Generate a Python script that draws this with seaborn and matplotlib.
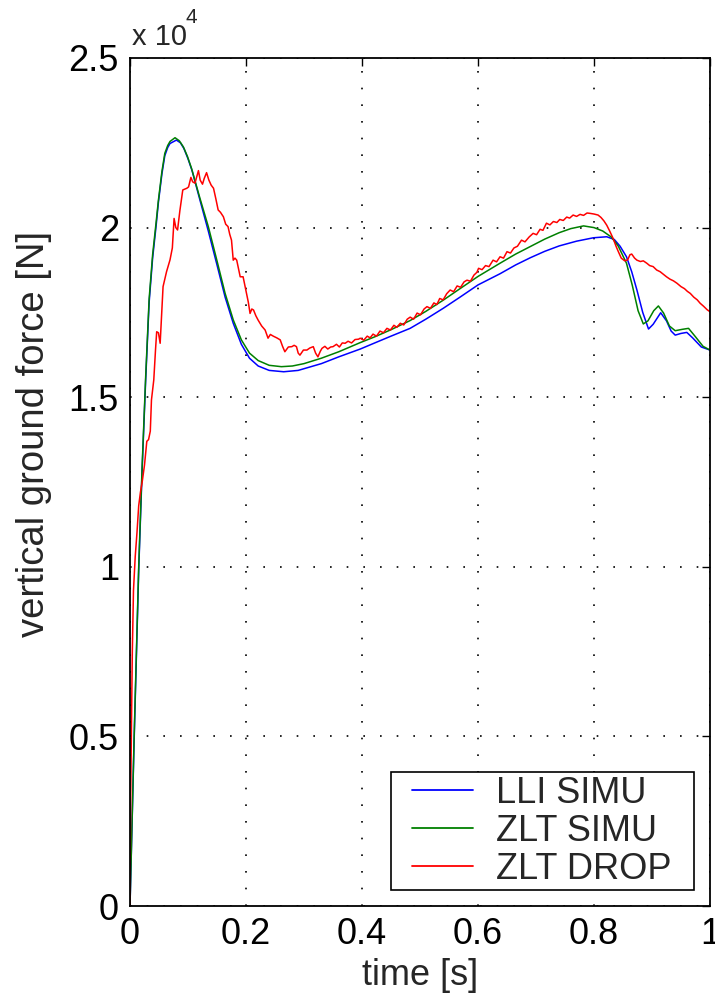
import numpy as np
import pandas as pd
import matplotlib
matplotlib.use("Agg")
import matplotlib.pyplot as plt
from matplotlib.ticker import FuncFormatter
from matplotlib.lines import Line2D
from matplotlib.legend_handler import HandlerLine2D
import seaborn as sns

# ---------------- data ----------------
lli_t = [0, 0.007, 0.015, 0.021, 0.027, 0.033, 0.039, 0.045, 0.049, 0.055, 0.060, 0.065,
         0.069, 0.080, 0.087, 0.093, 0.100, 0.107, 0.120, 0.135, 0.150, 0.164, 0.178,
         0.192, 0.206, 0.221, 0.240, 0.265, 0.290, 0.330, 0.360, 0.397, 0.422, 0.450,
         0.483, 0.510, 0.540, 0.569, 0.600, 0.638, 0.665, 0.690, 0.715, 0.740, 0.770,
         0.799, 0.822, 0.835, 0.845, 0.856, 0.865, 0.874, 0.884, 0.894, 0.902, 0.915,
         0.925, 0.933, 0.940, 0.950, 0.960, 0.970, 0.985, 1.0]
lli_f = [0, 4800, 9900, 12900, 15500, 17800, 19100, 20050, 20750, 21580, 22120, 22360,
         22480, 22580, 22500, 22330, 22030, 21680, 20850, 19900, 18900, 17950, 17180,
         16560, 16150, 15920, 15790, 15750, 15790, 15990, 16190, 16420, 16600, 16800,
         17030, 17300, 17620, 17950, 18310, 18640, 18900, 19110, 19300, 19460, 19600,
         19700, 19730, 19650, 19450, 19140, 18700, 18160, 17500, 17010, 17150, 17490,
         17250, 16950, 16830, 16880, 16910, 16750, 16480, 16390]

zlt_t = [0, 0.007, 0.015, 0.021, 0.027, 0.033, 0.039, 0.045, 0.049, 0.055, 0.060, 0.065,
         0.069, 0.0776, 0.085, 0.092, 0.099, 0.106, 0.120, 0.135, 0.150, 0.164, 0.178,
         0.192, 0.206, 0.221, 0.240, 0.261, 0.280, 0.300, 0.330, 0.360, 0.397, 0.422,
         0.450, 0.483, 0.510, 0.540, 0.569, 0.600, 0.638, 0.665, 0.690, 0.715, 0.740,
         0.760, 0.782, 0.800, 0.815, 0.830, 0.842, 0.856, 0.866, 0.876, 0.885, 0.893,
         0.903, 0.911, 0.920, 0.930, 0.940, 0.952, 0.963, 0.975, 0.988, 1.0]
zlt_f = [0, 4900, 10000, 13000, 15600, 17900, 19200, 20150, 20810, 21650, 22190, 22420,
         22540, 22650, 22560, 22380, 22100, 21750, 20900, 20030, 19020, 18060, 17280,
         16690, 16300, 16080, 15940, 15900, 15920, 15990, 16150, 16340, 16610, 16780,
         16990, 17260, 17530, 17860, 18200, 18560, 18950, 19220, 19440, 19660, 19850,
         19970, 20050, 20000, 19900, 19720, 19450, 18950, 18300, 17550, 17160, 17250,
         17550, 17690, 17480, 17100, 16960, 17000, 17030, 16780, 16500, 16390]

drop_t = [0, 0.001, 0.002, 0.004, 0.006, 0.009, 0.012, 0.015, 0.018, 0.021, 0.025, 0.029,
          0.032, 0.035, 0.037, 0.041, 0.044, 0.046, 0.049, 0.052, 0.055, 0.057, 0.063,
          0.069, 0.073, 0.076, 0.079, 0.082, 0.086, 0.091, 0.098, 0.101, 0.105, 0.108,
          0.112, 0.115, 0.118, 0.121, 0.125, 0.128, 0.132, 0.136, 0.140, 0.144, 0.148,
          0.152, 0.156, 0.161, 0.165, 0.169, 0.172, 0.175, 0.178, 0.181, 0.184, 0.187,
          0.190, 0.195, 0.198, 0.201, 0.204, 0.207, 0.210, 0.213, 0.217, 0.221, 0.227,
          0.233, 0.238, 0.242, 0.247, 0.253, 0.259, 0.263, 0.267, 0.273, 0.279, 0.283,
          0.287, 0.290, 0.293, 0.299, 0.305, 0.310, 0.316, 0.320, 0.324, 0.328, 0.331,
          0.336, 0.341, 0.346, 0.350, 0.356, 0.361, 0.366, 0.371, 0.376, 0.382, 0.388,
          0.394, 0.397, 0.403, 0.409, 0.414, 0.419, 0.425, 0.431, 0.437, 0.443, 0.449,
          0.455, 0.460, 0.466, 0.472, 0.478, 0.483, 0.489, 0.495, 0.501, 0.507, 0.512,
          0.518, 0.524, 0.529, 0.534, 0.540, 0.546, 0.552, 0.558, 0.564, 0.570, 0.576,
          0.581, 0.587, 0.593, 0.598, 0.601, 0.607, 0.613, 0.619, 0.626, 0.632, 0.638,
          0.644, 0.650, 0.656, 0.662, 0.668, 0.675, 0.681, 0.688, 0.695, 0.701, 0.707,
          0.712, 0.718, 0.724, 0.730, 0.736, 0.741, 0.747, 0.753, 0.758, 0.764, 0.770,
          0.776, 0.782, 0.788, 0.793, 0.800, 0.807, 0.812, 0.817, 0.822, 0.827, 0.833,
          0.838, 0.842, 0.847, 0.853, 0.858, 0.862, 0.865, 0.870, 0.874, 0.880, 0.885,
          0.891, 0.896, 0.902, 0.908, 0.914, 0.920, 0.925, 0.931, 0.937, 0.943, 0.950,
          0.956, 0.961, 0.966, 0.972, 0.978, 0.983, 0.989, 0.995, 1.0]
drop_f = [0, 3000, 4490, 7500, 9300, 10300, 11000, 11800, 12200, 12500, 13000, 13700,
          13750, 14000, 14920, 15510, 16400, 16930, 16900, 16590, 17600, 18260, 18700,
          19050, 19400, 20270, 20000, 19930, 20500, 21110, 21160, 21200, 21480, 21350,
          21310, 21500, 21680, 21400, 21280, 21450, 21620, 21400, 21250, 21160, 20850,
          20520, 20450, 20320, 20100, 20030, 19800, 19630, 19040, 19100, 19040, 18800,
          18550, 18550, 18300, 18060, 17800, 17470, 17600, 17570, 17400, 17270, 17100,
          16980, 16740, 16850, 16800, 16750, 16690, 16500, 16340, 16480, 16490, 16530,
          16490, 16300, 16240, 16390, 16390, 16450, 16490, 16300, 16190, 16350, 16440,
          16500, 16420, 16480, 16490, 16560, 16480, 16600, 16590, 16650, 16600, 16700,
          16710, 16740, 16680, 16800, 16750, 16860, 16800, 16950, 16900, 17030, 16980,
          17120, 17060, 17180, 17130, 17300, 17360, 17300, 17480, 17430, 17600, 17670,
          17620, 17780, 17730, 17910, 17870, 18050, 18160, 18110, 18280, 18240, 18400,
          18450, 18420, 18600, 18680, 18800, 18760, 18880, 18850, 19040, 18990, 19140,
          19100, 19290, 19250, 19400, 19450, 19630, 19580, 19720, 19830, 19790, 19950,
          19920, 20130, 20080, 20180, 20150, 20240, 20210, 20310, 20280, 20370, 20330,
          20390, 20360, 20430, 20420, 20400, 20370, 20300, 20200, 20070, 19900, 19680,
          19450, 19290, 19100, 19020, 19050, 19200, 19220, 19100, 19040, 19000, 19020,
          18950, 18880, 18850, 18750, 18700, 18620, 18550, 18480, 18430, 18360, 18260,
          18200, 18120, 18060, 17950, 17870, 17770, 17680, 17580, 17520]

series_names = ["LLI SIMU", "ZLT SIMU", "ZLT DROP"]
series_colors = ["#0000ff", "#008000", "#ff0000"]
x_ticks = [0, 0.2, 0.4, 0.6, 0.8, 1.0]
y_ticks = [0, 5000, 10000, 15000, 20000, 25000]

# ---------------- build table ----------------
frames = []
for name, t, f in zip(series_names, [lli_t, zlt_t, drop_t], [lli_f, zlt_f, drop_f]):
    frames.append(pd.DataFrame({"t": t, "F": f, "series": name}))
df = pd.concat(frames, ignore_index=True)

# ---------------- style ----------------
sns.set_style("white")
plt.rcParams["font.family"] = ["Liberation Sans", "DejaVu Sans"]

fig = plt.figure(figsize=(7.15, 9.93), dpi=100)
ax = fig.add_axes([130 / 715, 1 - 906 / 993, 580 / 715, 848 / 993])

sns.lineplot(data=df, x="t", y="F", hue="series", hue_order=series_names,
             palette=dict(zip(series_names, series_colors)), estimator=None,
             sort=False, linewidth=1.1, ax=ax)

ax.set_xlim(0, 1)
ax.set_ylim(0, 25000)
ax.set_xticks(x_ticks)
ax.set_yticks(y_ticks)
ax.xaxis.set_major_formatter(FuncFormatter(lambda v, p: f"{v:g}"))
ax.yaxis.set_major_formatter(FuncFormatter(lambda v, p: f"{v / 1e4:g}"))

ax.grid(True, color="black", linestyle=(0, (1, 9)), linewidth=1.2)
ax.set_axisbelow(True)
for s in ax.spines.values():
    s.set_visible(True)
    s.set_color("black")
    s.set_linewidth(1.3)
ax.tick_params(which="both", direction="in", length=6, width=1.0, color="black",
               top=True, right=True, labelsize=26, pad=8, labelcolor="black")

ax.set_xlabel("time [s]", fontsize=26, labelpad=4)
ax.set_ylabel("vertical ground force [N]", fontsize=27.5)
ax.yaxis.set_label_coords(-0.135, 0.557)

# multiplier shown above the y axis
fig.text(132 / 715, 1 - 45 / 993, "x 10", fontsize=21, ha="left", va="baseline")
fig.text(186 / 715, 1 - 23 / 993, "4", fontsize=15, ha="left", va="baseline")

handles, labels = ax.get_legend_handles_labels()
labels = [lab + "  " for lab in labels]
leg = ax.legend(handles, labels, loc="lower right", fontsize=26, frameon=True,
                fancybox=False, edgecolor="black", framealpha=1,
                borderaxespad=0.43, handlelength=2.17, handletextpad=0.64,
                borderpad=0.1, labelspacing=0.08,
                handler_map={Line2D: HandlerLine2D(xpad=0.48)})
leg.get_frame().set_linewidth(1.2)
for h in leg.legend_handles:
    h.set_linewidth(1.3)

fig.savefig("out.png", dpi=100)
